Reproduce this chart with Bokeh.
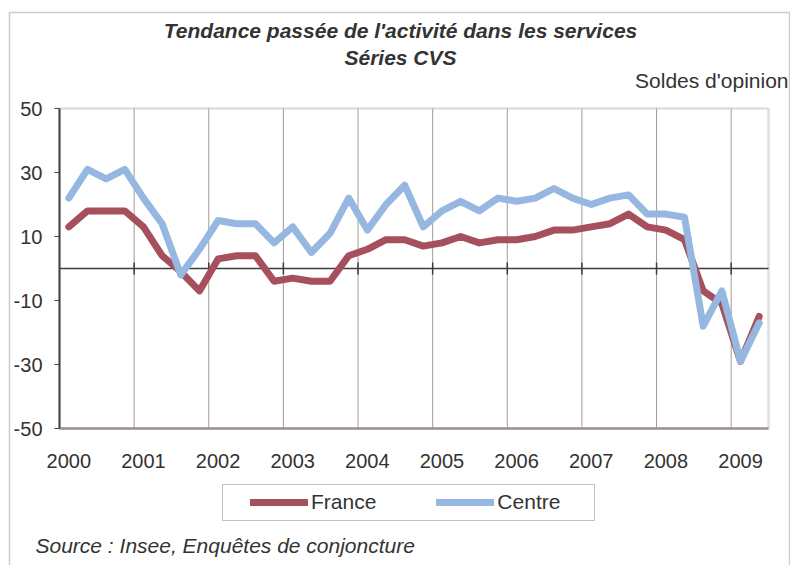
from bokeh.plotting import figure
from bokeh.models import (FixedTicker, Label, Legend, LegendItem,
                          BoxAnnotation, Range1d)
from bokeh.embed import file_html
from bokeh.resources import INLINE

# ---- data ----
years = ["2000", "2001", "2002", "2003", "2004", "2005", "2006", "2007", "2008", "2009"]
france = [13, 18, 18, 18, 13, 4, -1, -7, 3, 4, 4, -4, -3, -4, -4, 4, 6, 9, 9, 7,
          8, 10, 8, 9, 9, 10, 12, 12, 13, 14, 17, 13, 12, 9, -7, -11, -29, -15]
centre = [22, 31, 28, 31, 22, 14, -2, 6, 15, 14, 14, 8, 13, 5, 11, 22, 12, 20, 26, 13,
          18, 21, 18, 22, 21, 22, 25, 22, 20, 22, 23, 17, 17, 16, -18, -7, -29, -17]
y_ticks = [-50, -30, -10, 10, 30, 50]
series_names = ["France", "Centre"]
colors = ["#A6505E", "#95B7E0"]

quarters_per_year = 4
n = len(france)
xs = list(range(n))
year_pos = [k * quarters_per_year for k in range(len(years))]
grid_pos = [k * quarters_per_year - 0.5 for k in range(1, len(years))]
x_lo, x_hi = -0.5, n - 0.5
y_lo, y_hi = y_ticks[0], y_ticks[-1]

# ---- layout (pixels) ----
W, H = 790, 565
PL, PR, PT, PB = 59, 768, 108, 428          # plot area box in canvas pixels
sx = (PR - PL) / (x_hi - x_lo)
sy = (PB - PT) / (y_hi - y_lo)

TXT = "#333333"
FONT = "Liberation Sans"
BORDER = "#9E9390"
DARK = "#3C3C3C"

p = figure(width=W, height=H, output_backend="svg", toolbar_location=None,
           x_range=Range1d(x_lo - PL / sx, x_hi + (W - PR) / sx),
           y_range=Range1d(y_lo - (H - PB) / sy, y_hi + PT / sy),
           min_border_left=0, min_border_right=0, min_border_top=0,
           min_border_bottom=0, title=None)
p.background_fill_color = "white"
p.border_fill_color = "white"
p.outline_line_color = None
p.grid.visible = False

# plot area border (underlay)
p.add_layout(BoxAnnotation(left=x_lo, right=x_hi, bottom=y_lo, top=y_hi,
                           fill_alpha=0, line_color=BORDER, line_width=2.5,
                           level="underlay"))

# vertical year gridlines
p.segment(x0=grid_pos, x1=grid_pos, y0=[y_lo] * len(grid_pos), y1=[y_hi] * len(grid_pos),
          line_color="#A39A98", line_width=1)
# zero line with tick marks
p.segment(x0=[x_lo], x1=[x_hi], y0=[0], y1=[0], line_color=DARK, line_width=1.5)
tick_half = 6 / sy
p.segment(x0=grid_pos, x1=grid_pos, y0=[-tick_half] * len(grid_pos),
          y1=[tick_half] * len(grid_pos), line_color=DARK, line_width=1.5)

# axes, fixed at the plot-area edges
p.yaxis.fixed_location = x_lo
p.yaxis.bounds = (y_lo, y_hi)
p.yaxis.ticker = FixedTicker(ticks=y_ticks)
p.yaxis.major_label_overrides = {v: str(v) for v in y_ticks}
p.yaxis.axis_line_color = "#4A4040"
p.yaxis.axis_line_width = 2
p.yaxis.major_tick_line_color = "#4A4040"
p.yaxis.major_tick_out = 5
p.yaxis.major_tick_in = 0
p.yaxis.minor_tick_line_color = None
p.yaxis.major_label_standoff = 12
p.yaxis.major_label_text_font = FONT
p.yaxis.major_label_text_font_size = "20px"
p.yaxis.major_label_text_color = TXT

p.xaxis.fixed_location = y_lo
p.xaxis.bounds = (x_lo, x_hi)
p.xaxis.ticker = FixedTicker(ticks=year_pos)
p.xaxis.major_label_overrides = {pos: y for pos, y in zip(year_pos, years)}
p.xaxis.axis_line_color = BORDER
p.xaxis.axis_line_width = 2.5
p.xaxis.major_tick_in = 0
p.xaxis.major_tick_out = 0
p.xaxis.minor_tick_line_color = None
p.xaxis.major_label_standoff = 25
p.xaxis.major_label_text_font = FONT
p.xaxis.major_label_text_font_size = "20px"
p.xaxis.major_label_text_color = TXT

# series
renderers = []
for vals, c in zip([france, centre], colors):
    r = p.line(xs, vals, line_color=c, line_width=7, line_join="round", line_cap="round")
    renderers.append(r)

legend = Legend(items=[LegendItem(label=nm, renderers=[r]) for nm, r in zip(series_names, renderers)],
                orientation="horizontal", location=(250, 51),
                glyph_width=58, glyph_height=22, label_standoff=3, spacing=60,
                padding=0, margin=0, border_line_color=None, background_fill_alpha=0,
                label_text_font=FONT, label_text_font_size="21px", label_text_color=TXT)
p.add_layout(legend, "center")

# legend box
p.add_layout(BoxAnnotation(left=222, right=594, top=484, bottom=520,
                           left_units="canvas", right_units="canvas",
                           top_units="canvas", bottom_units="canvas",
                           fill_alpha=0, line_color="#333333", line_width=1))
# outer frame
p.add_layout(BoxAnnotation(left=9, right=789, top=12, bottom=H + 20,
                           left_units="canvas", right_units="canvas",
                           top_units="canvas", bottom_units="canvas",
                           fill_alpha=0, line_color="#555555", line_width=1.5))

# titles and notes (screen units: from bottom-left of canvas)
def lab(text, x, y, align="center", style="normal", size="21px"):
    p.add_layout(Label(x=x, y=H - y, x_units="screen", y_units="screen", text=text,
                       text_align=align, text_baseline="middle", text_font=FONT,
                       text_font_size=size, text_font_style=style, text_color=TXT))

lab("Tendance passée de l'activité dans les services", 400, 30, style="bold italic")
lab("Séries CVS", 400, 57, style="bold italic")
lab("Soldes d'opinion", 788, 80, align="right")
lab("Source : Insee, Enquêtes de conjoncture", 35, 545, align="left", style="italic")

open("out.html", "w").write(file_html(p, INLINE))
